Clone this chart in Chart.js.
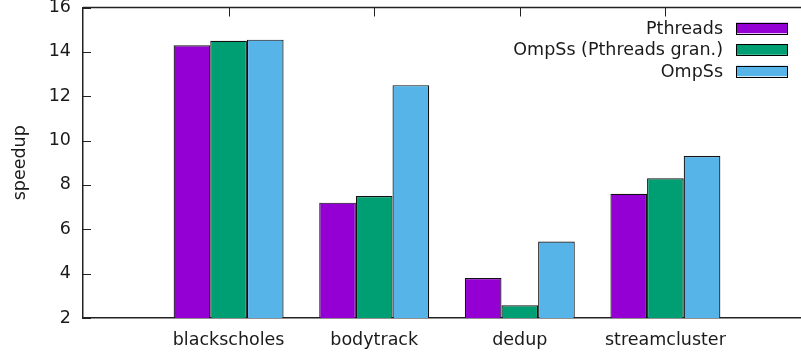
<!DOCTYPE html>
<html>
<head>
<meta charset="utf-8">
<script src="https://cdn.jsdelivr.net/npm/chart.js@4/dist/chart.umd.min.js"></script>
<style>
  html, body { margin: 0; padding: 0; background: #fff; overflow: hidden; }
  #wrap { width: 812px; height: 352px; }
  #c { width: 812px; height: 352px; display: block; }
</style>
</head>
<body>
<div id="wrap"><canvas id="c" width="812" height="352"></canvas></div>
<script>
// Benchmarks on the x axis
const benchmarks = ['blackscholes', 'bodytrack', 'dedup', 'streamcluster'];

// Speedup per benchmark for each version
const pthreads     = [14.3, 7.2, 3.8, 7.6];
const ompssPthGran = [14.5, 7.5, 2.57, 8.3];
const ompss        = [14.55, 12.5, 5.45, 9.3];

// Series names
const seriesNames = ['Pthreads', 'OmpSs (Pthreads gran.)', 'OmpSs'];

// Y axis ticks
const yTicks = [2, 4, 6, 8, 10, 12, 14, 16];

const FONT = 'DejaVu Sans';
const FSIZE = 17.5;
const INK = '#1a1a1a';
const AXIS = '#222';

// One empty slot on each side so the axis spans -1 .. 4 in category units
const labels = [''].concat(benchmarks, ['']);
const pad = arr => [null].concat(arr, [null]);

// Scales reserve no extra room for overhanging labels
function noPadding(s) {
  s.paddingTop = 0; s.paddingBottom = 0; s.paddingLeft = 0; s.paddingRight = 0;
}

// Top border, mirrored ticks, inward y ticks and the key
const framePlugin = {
  id: 'frame',
  afterDatasetsDraw(chart) {
    const { ctx, chartArea: a, scales: { x, y } } = chart;
    ctx.save();
    ctx.strokeStyle = AXIS;
    ctx.lineWidth = 1.5;
    // top border
    ctx.beginPath();
    ctx.moveTo(a.left, a.top);
    ctx.lineTo(a.right, a.top);
    ctx.stroke();
    // ticks on the top border at each benchmark
    ctx.lineWidth = 1;
    for (let i = 1; i <= benchmarks.length; i++) {
      const px = Math.round(x.getPixelForValue(i)) + 0.5;
      ctx.beginPath();
      ctx.moveTo(px, a.top);
      ctx.lineTo(px, a.top + 9);
      ctx.stroke();
    }
    // inward ticks on the y axis
    yTicks.forEach(v => {
      const py = Math.round(y.getPixelForValue(v)) + 0.5;
      ctx.beginPath();
      ctx.moveTo(a.left, py);
      ctx.lineTo(a.left + 8, py);
      ctx.stroke();
    });
    // key: right-aligned names followed by swatches
    ctx.font = FSIZE + 'px "' + FONT + '"';
    ctx.textAlign = 'right';
    ctx.textBaseline = 'middle';
    const swR = 788, swW = 52, swH = 10.5;
    chart.data.datasets.forEach((ds, i) => {
      const cy = a.top + 20.5 + i * 21.5;
      ctx.fillStyle = INK;
      ctx.fillText(ds.label, swR - swW - 13, cy + 1);
      ctx.fillStyle = ds.backgroundColor;
      ctx.fillRect(swR - swW, cy - swH / 2, swW, swH);
      ctx.strokeStyle = '#000';
      ctx.lineWidth = 1;
      ctx.strokeRect(Math.round(swR - swW) + 0.5, Math.round(cy - swH / 2) + 0.5, swW - 1, Math.round(swH));
    });
    ctx.restore();
  }
};

new Chart(document.getElementById('c'), {
  type: 'bar',
  data: {
    labels: labels,
    datasets: [
      { label: seriesNames[0], data: pad(pthreads), backgroundColor: '#9400d3' },
      { label: seriesNames[1], data: pad(ompssPthGran), backgroundColor: '#009e73' },
      { label: seriesNames[2], data: pad(ompss), backgroundColor: '#56b4e9' }
    ].map(d => Object.assign(d, {
      borderColor: '#111',
      borderWidth: 1.2,
      borderSkipped: 'start',
      categoryPercentage: 0.755,
      barPercentage: 1
    }))
  },
  options: {
    responsive: false,
    animation: false,
    devicePixelRatio: 1,
    layout: { padding: { top: 7.5, right: 1, left: 0, bottom: 0 } },
    plugins: { legend: { display: false }, tooltip: { enabled: false } },
    scales: {
      x: {
        type: 'category',
        offset: false,
        grid: { display: false, drawTicks: false },
        border: { display: true, color: AXIS, width: 1.5 },
        ticks: {
          color: INK,
          font: { family: FONT, size: FSIZE },
          padding: 12,
          maxRotation: 0,
          autoSkip: false
        },
        afterFit(s) { s.height = 34; noPadding(s); }
      },
      y: {
        min: 2,
        max: 16,
        afterBuildTicks(s) { s.ticks = yTicks.map(v => ({ value: v })); },
        grid: { display: false, drawTicks: false },
        border: { display: true, color: AXIS, width: 1.5 },
        ticks: {
          color: INK,
          font: { family: FONT, size: FSIZE },
          padding: 12
        },
        title: {
          display: true,
          text: 'speedup',
          color: INK,
          font: { family: FONT, size: FSIZE },
          padding: { top: 10, bottom: 0 }
        },
        afterFit(s) { s.width = 83; noPadding(s); }
      }
    }
  },
  plugins: [framePlugin]
});
</script>
</body>
</html>
